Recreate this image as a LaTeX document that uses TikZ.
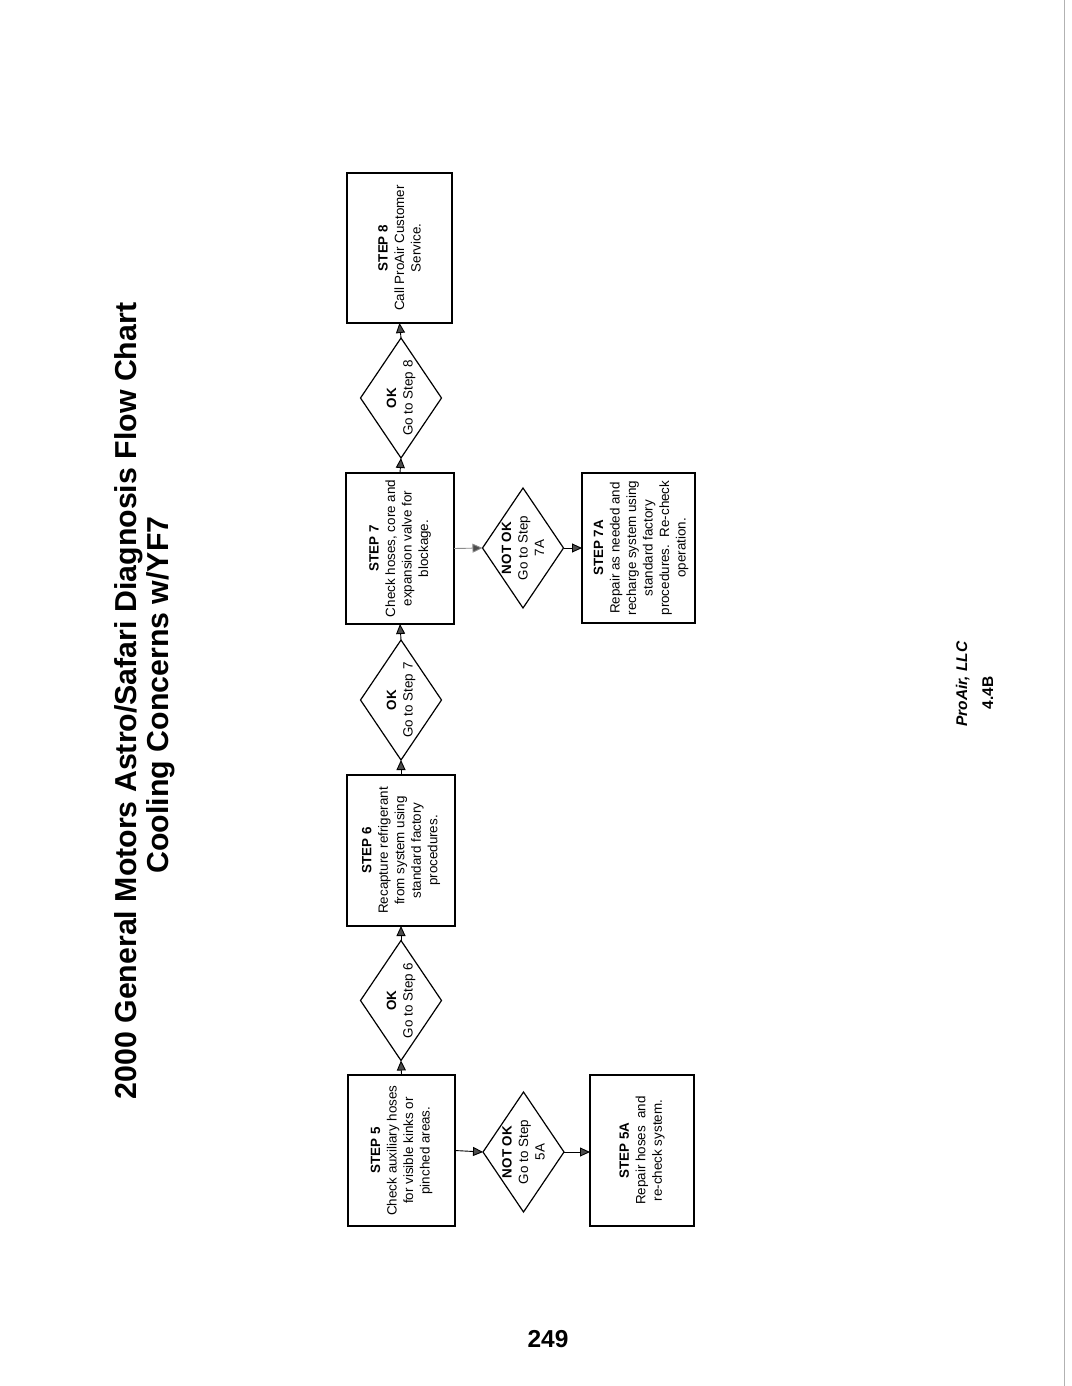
\documentclass[tikz,border=0pt]{standalone}
\usepackage{fontspec}
\setmainfont{Liberation Sans}
\usetikzlibrary{shapes.geometric,arrows.meta}
\begin{document}
\begin{tikzpicture}[x=1pt,y=-1pt,
  stepbox/.style={draw,line width=1.4pt,rectangle,minimum height=151pt,inner sep=0pt,outer sep=0pt},
  dia/.style={draw,line width=1.2pt,diamond,minimum width=81pt,minimum height=120pt,inner sep=0pt,outer sep=0pt},
  txt/.style={rotate=90,align=center,font=\fontsize{13.4}{16.5}\selectfont,inner sep=0pt},
  conn/.style={line width=0.9pt,-{Triangle[length=10pt,width=9pt,fill=black!70]}},
  titletxt/.style={rotate=90,anchor=base,inner sep=0pt,font=\fontsize{30.3}{33}\selectfont\bfseries},
  foot/.style={rotate=90,anchor=base,inner sep=0pt,font=\fontsize{15.5}{18}\selectfont\bfseries}
]
\useasboundingbox (0,0) rectangle (1071,1386);
\fill[white] (0,0) rectangle (1071,1386);

% title
\node[titletxt] (t1) at (136,701) {2000 General Motors Astro/Safari Diagnosis Flow Chart};
\node[titletxt] (t2) at (168,695) {Cooling Concerns w/YF7};

% boxes
\node[stepbox,minimum width=107pt] (s5) at (401.5,1150.5) {};
\node[stepbox,minimum width=104pt] (s5a) at (642,1150.5) {};
\node[stepbox,minimum width=108pt] (s6) at (401,850.5) {};
\node[stepbox,minimum width=108pt] (s7) at (400,548.5) {};
\node[stepbox,minimum width=113pt,minimum height=150pt] (s7a) at (638.5,548) {};
\node[stepbox,minimum width=105pt,minimum height=150pt] (s8) at (399.5,248) {};

\node[txt] at (s5) {\textbf{STEP 5}\\Check auxiliary hoses\\for visible kinks or\\pinched areas.};
\node[txt] at (s5a) {\textbf{STEP 5A}\\Repair hoses\ \ and\\re-check system.};
\node[txt] at (s6) {\textbf{STEP 6}\\Recapture refrigerant\\from system using\\standard factory\\procedures.};
\node[txt] at (s7) {\textbf{STEP 7}\\Check hoses, core and\\expansion valve for\\blockage.};
\node[txt] at (641,548) {\textbf{STEP 7A}\\Repair as needed and\\recharge system using\\standard factory\\procedures.\ \ Re-check\\operation.};
\node[txt] at (s8) {\textbf{STEP 8}\\Call ProAir Customer\\Service.};

% diamonds
\node[dia] (d6) at (401,1000.5) {};
\node[dia] (d7) at (401,700) {};
\node[dia] (d8) at (401,398) {};
\node[dia] (n5) at (523.5,1152) {};
\node[dia] (n7) at (523,548) {};

\node[txt] at (d6) {\textbf{OK}\\Go to Step 6};
\node[txt] at (d7) {\textbf{OK}\\Go to Step 7};
\node[txt] at (d8) {\textbf{OK}\\Go to Step 8};
\node[txt] at (n5) {\textbf{NOT OK}\\Go to Step\\5A};
\node[txt] at (n7) {\textbf{NOT OK}\\Go to Step\\7A};

% connectors
\draw[conn] (s5.north) -- (d6.south);
\draw[conn] (d6.north) -- (s6.south);
\draw[conn] (s6.north) -- (d7.south);
\draw[conn] (d7.north) -- (s7.south);
\draw[conn] (s7.north) -- (d8.south);
\draw[conn] (d8.north) -- (s8.south);
\draw[conn] (s5.east) -- (n5.west);
\draw[conn] (n5.east) -- (n5.east -| s5a.west);
\draw[conn,draw=black!45] (s7.east) -- (n7.west);
\draw[conn] (n7.east) -- (n7.east -| s7a.west);

% footer
\node[foot,font=\fontsize{15.5}{18}\selectfont\bfseries\itshape] (f1) at (967,684) {ProAir, LLC};
\node[foot] (f2) at (993,693) {4.4B};
\node[anchor=base,inner sep=0pt,font=\fontsize{24.5}{28}\selectfont\bfseries] (pg) at (548,1347) {249};

% scanned page edge
\draw[black!30,line width=0.6pt] (1064,0) -- (1064,1386);
\end{tikzpicture}
\end{document}
